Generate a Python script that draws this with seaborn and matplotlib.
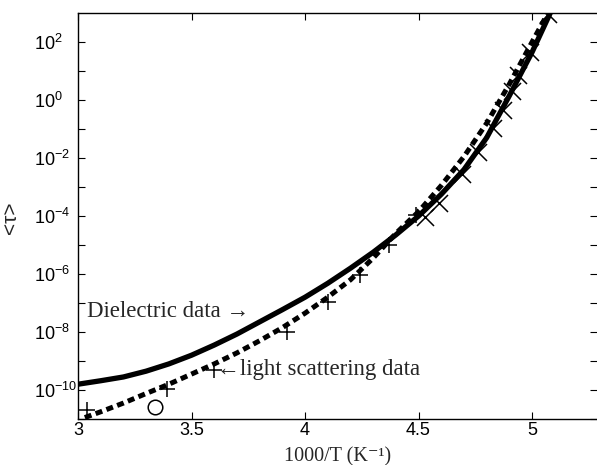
import numpy as np
import pandas as pd
import seaborn as sns
import matplotlib.pyplot as plt
from matplotlib.ticker import FixedLocator, FuncFormatter

# curve (x = 1000/T, y = log10 <tau>)
diel_x = [3.00, 3.10, 3.20, 3.30, 3.40, 3.50, 3.60, 3.70, 3.80, 3.90, 4.00, 4.10, 4.20,
          4.30, 4.40, 4.50, 4.60, 4.70, 4.80, 4.90, 5.00, 5.08]
diel_log = [-9.80, -9.68, -9.55, -9.35, -9.10, -8.80, -8.45, -8.07, -7.65, -7.23, -6.80,
            -6.32, -5.80, -5.25, -4.65, -4.00, -3.25, -2.40, -1.30, 0.15, 1.65, 3.00]

light_x = [3.03, 3.10, 3.20, 3.30, 3.40, 3.50, 3.60, 3.70, 3.80, 3.90, 4.00, 4.10, 4.20,
           4.30, 4.40, 4.50, 4.60, 4.70, 4.80, 4.90, 5.00, 5.07]
light_log = [-10.95, -10.75, -10.45, -10.12, -9.80, -9.45, -9.10, -8.72, -8.30, -7.85,
             -7.35, -6.80, -6.20, -5.45, -4.60, -3.85, -2.95, -1.95, -0.80, 0.55, 2.00, 3.00]

# light scattering points (+)
plus_x = [3.04, 3.39, 3.60, 3.92, 4.10, 4.24, 4.37, 4.49]
plus_log = [-10.68, -9.97, -9.30, -8.00, -6.97, -6.02, -5.00, -3.95]

# dielectric points (x)
cross_x = [4.53, 4.59, 4.69, 4.76, 4.83, 4.87, 4.91, 4.94, 4.99, 5.07]
cross_log = [-4.05, -3.55, -2.55, -1.80, -0.95, -0.35, 0.30, 0.85, 1.65, 2.95]

# single open circle
circ_x = [3.34]
circ_log = [-10.6]

diel = pd.DataFrame({"x": diel_x, "tau": 10.0 ** np.array(diel_log)})
light = pd.DataFrame({"x": light_x, "tau": 10.0 ** np.array(light_log)})
plus = pd.DataFrame({"x": plus_x, "tau": 10.0 ** np.array(plus_log)})
cross = pd.DataFrame({"x": cross_x, "tau": 10.0 ** np.array(cross_log)})
circ = pd.DataFrame({"x": circ_x, "tau": 10.0 ** np.array(circ_log)})

sns.set_theme(style="ticks")
plt.rcParams["font.family"] = ["Liberation Sans", "DejaVu Sans"]
plt.rcParams["mathtext.fontset"] = "custom"
plt.rcParams["mathtext.rm"] = "Liberation Sans"
plt.rcParams["mathtext.it"] = "Liberation Sans:italic"

serif = ["Liberation Serif", "DejaVu Serif"]

fig = plt.figure(figsize=(5.97, 4.65), dpi=100)
ax = fig.add_axes([0.1307, 0.0989, 0.8693, 0.8731])
ax.set_yscale("log")

sns.lineplot(data=diel, x="x", y="tau", ax=ax, color="black", linewidth=3.8,
             estimator=None, sort=False)
sns.lineplot(data=light, x="x", y="tau", ax=ax, color="black", linewidth=3.6,
             estimator=None, sort=False, linestyle=(0, (1.4, 0.9)))
sns.scatterplot(data=plus, x="x", y="tau", ax=ax, marker="+", s=140, color="black",
                linewidth=1.1)
sns.scatterplot(data=cross, x="x", y="tau", ax=ax, marker="x", s=150, color="black",
                linewidth=1.1)
sns.scatterplot(data=circ, x="x", y="tau", ax=ax, marker="o", s=110, facecolor="white",
                edgecolor="black", linewidth=1.1)

ax.set_xlim(3.0, 5.286)
ax.set_ylim(1e-11, 1e3)

ax.set_xticks([3, 3.5, 4, 4.5, 5])
ax.set_xticklabels(["3", "3.5", "4", "4.5", "5"])
ax.yaxis.set_major_locator(FixedLocator([10.0 ** k for k in range(-10, 3, 2)]))
ax.yaxis.set_minor_locator(FixedLocator([10.0 ** k for k in range(-11, 3, 2)]))
ax.yaxis.set_major_formatter(FuncFormatter(lambda v, p: r"$10^{%d}$" % round(np.log10(v))))
ax.yaxis.set_minor_formatter(FuncFormatter(lambda v, p: ""))

ax.tick_params(axis="both", which="both", direction="in", top=True, right=True,
               length=5, width=0.8, labelsize=13, colors="black")
ax.tick_params(axis="x", pad=2)
ax.tick_params(axis="y", pad=32)
for lab in ax.get_yticklabels():
    lab.set_horizontalalignment("left")
for side in ["left", "bottom", "top"]:
    ax.spines[side].set_linewidth(1.0)
    ax.spines[side].set_color("black")
ax.spines["right"].set_visible(False)

ax.set_xlabel("1000/T (K⁻¹)", family=serif, fontsize=14.5, va="baseline")
ax.xaxis.set_label_coords(0.5, -0.1035)
ax.set_ylabel("<τ>", fontsize=15)
ax.yaxis.set_label_coords(-0.112, 0.495)

ax.text(3.04, 10.0 ** -7.3, "Dielectric data →", family=serif,
        fontsize=16.5, va="center", ha="left")
ax.text(3.61, 10.0 ** -9.3, "←light scattering data", family=serif,
        fontsize=16.5, va="center", ha="left")

fig.savefig("out.png", dpi=100)
